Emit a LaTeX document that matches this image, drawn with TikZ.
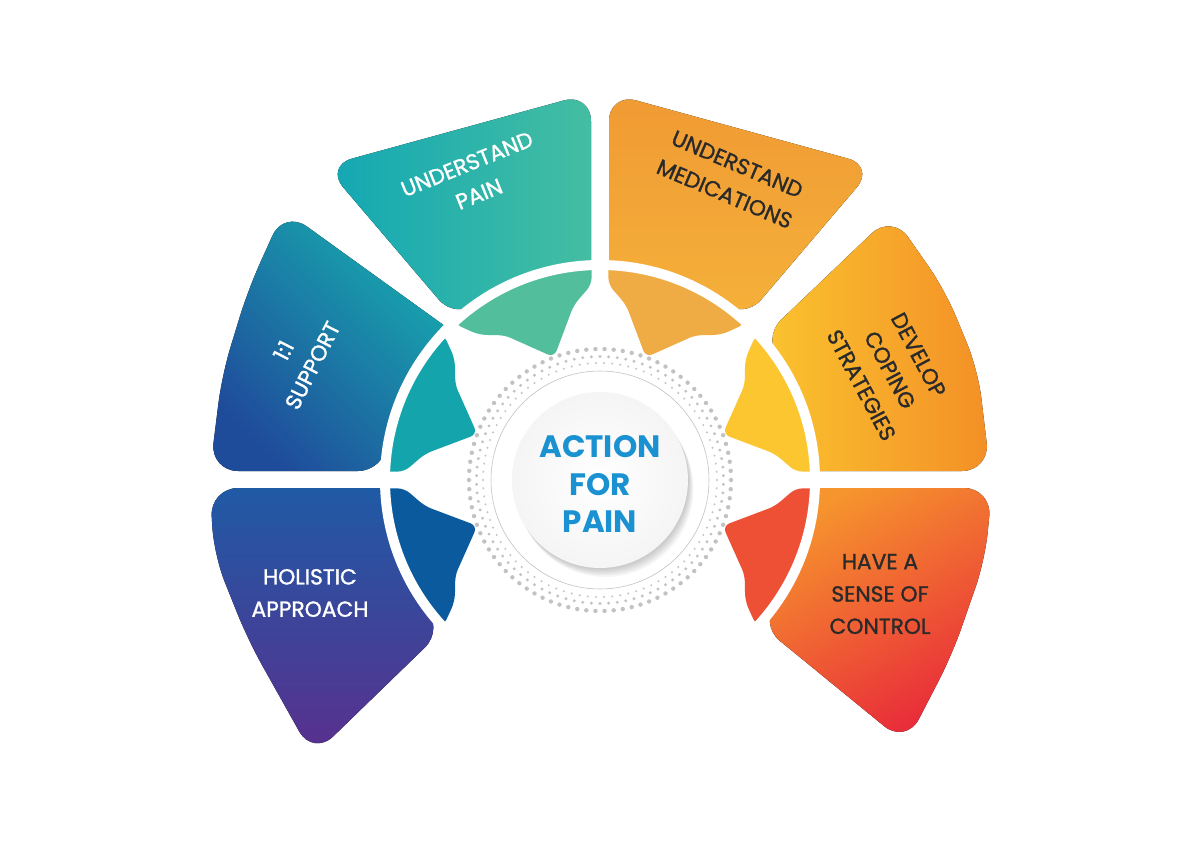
\documentclass[tikz,border=0pt]{standalone}
\usepackage{fontspec}
\setmainfont{Poppins}
\newfontfamily\lblfont{Poppins}[FakeBold=1.3]
\definecolor{upA}{HTML}{12A7B4}
\definecolor{upB}{HTML}{44BEA2}
\definecolor{upin}{HTML}{52BE9C}
\definecolor{suA}{HTML}{1F4B9B}
\definecolor{suB}{HTML}{17ABAF}
\definecolor{suin}{HTML}{14A5AC}
\definecolor{haA}{HTML}{1F5AA5}
\definecolor{haM}{HTML}{2C3A92}
\definecolor{haB}{HTML}{5A2F8E}
\definecolor{hain}{HTML}{0A5A9D}
\definecolor{umA}{HTML}{F09A33}
\definecolor{umB}{HTML}{F5B13A}
\definecolor{umin}{HTML}{F0AC44}
\definecolor{dcA}{HTML}{FBC42E}
\definecolor{dcB}{HTML}{F38F27}
\definecolor{dcin}{HTML}{FCC630}
\definecolor{hsA}{HTML}{F6952D}
\definecolor{hsB}{HTML}{E8283A}
\definecolor{hsin}{HTML}{EE5036}
\definecolor{titleblue}{HTML}{1A91D0}
\definecolor{darktext}{HTML}{2A2A2A}
\definecolor{dotgray}{HTML}{C2C2C2}
\tikzset{
  lbl/.style={align=center,font=\lblfont\fontsize{15.5}{23}\selectfont,inner sep=0pt},
  hub/.style={align=center,font=\fontsize{22}{27}\selectfont\bfseries,text=titleblue,inner sep=0pt},
  gapring/.style={draw=white,line width=7.1pt}
}
\begin{document}
\begin{tikzpicture}[x=0.025cm,y=0.025cm]
\coordinate (O) at (0,0);
\fill[white] (-600,-368) rectangle (600,480);
\useasboundingbox (-600,-368) rectangle (600,480);
\fill[left color=upA,right color=upB] (-9,214) [rounded corners=20pt] -- (-9,387) -- (-275,314) -- (-143,159) [sharp corners] arc[start angle=132,end angle=92.4,radius=214] -- cycle;
\fill[left color=suA,right color=suB,shading angle=135] (-151,151) [rounded corners=20pt] -- (-316,270) -- (-352,190) -- (-378,105) -- (-390,9) -- (-214,9) [sharp corners] arc[start angle=177.6,end angle=135,radius=214] -- cycle;
\fill[top color=haA,middle color=haM,bottom color=haB] (-214,-8) [rounded corners=20pt] -- (-390,-8) -- (-386,-75) -- (-352,-160) -- (-287,-276) -- (-155,-148) [sharp corners] arc[start angle=223.7,end angle=182.1,radius=214] -- cycle;
\fill[top color=umA,bottom color=umB] (9,214) [rounded corners=20pt] -- (9,387) -- (275,314) -- (143,159) [sharp corners] arc[start angle=48,end angle=87.6,radius=214] -- cycle;
\fill[left color=dcA,right color=dcB] (214,9) [rounded corners=20pt] -- (390,9) -- (378,110) -- (345,190) -- (292,266) -- (161,141) [sharp corners] arc[start angle=41.2,end angle=2.4,radius=214] -- cycle;
\fill[top color=hsA,bottom color=hsB,shading angle=30] (214,-8) [rounded corners=20pt] -- (392,-8) -- (385,-80) -- (352,-175) -- (306,-264) -- (158,-143) [sharp corners] arc[start angle=-42.2,end angle=-2.1,radius=214] -- cycle;
\foreach \s/\d/\c in {90/1/upin,180/-1/suin,180/1/hain,90/-1/umin,0/1/dcin,0/-1/hsin}
  \fill[\c] ({\s+\d*2.3}:214) [rounded corners=5pt] -- ({\s+\d*2.4}:196) -- ({\s+\d*8.5}:177) -- ({\s+\d*20.5}:131) -- ({\s+\d*33.5}:174) -- ({\s+\d*36.5}:180) -- ({\s+\d*40}:190) -- ({\s+\d*43}:214) [sharp corners] arc[start angle={\s+\d*43},end angle={\s+\d*2.3},radius=214] -- cycle;
\draw[gapring] (O) circle (215);
\foreach \a in {0,4,...,356}{
  \fill[dotgray] (\a:131) circle (2.2);
  \fill[dotgray] ({\a+2}:123.5) circle (1.6);
  \fill[dotgray] (\a:117) circle (1.1);
}
\draw[black!25,line width=0.4pt] (O) circle (109);
\foreach \k in {1,...,6}
  \fill[black,opacity=0.035] ({0.9*\k},{-1.5*\k}) circle (88);
\shade[inner color=white,outer color=black!4] (O) circle (88);
\node[hub] (hub) at (0,-4) {ACTION\\FOR\\PAIN};
\node[lbl,text=white,rotate=22] (pain) at (-127,301) {UNDERSTAND\\PAIN};
\node[lbl,text=white,rotate=63] (supp) at (-302,122) {1:1\\SUPPORT};
\node[lbl,text=white] (holi) at (-290,-113) {HOLISTIC\\APPROACH};
\node[lbl,text=darktext,rotate=-23] (medi) at (131,301) {UNDERSTAND\\MEDICATIONS};
\node[lbl,text=darktext,rotate=-62] (cope) at (290,110) {DEVELOP\\COPING\\STRATEGIES};
\node[lbl,text=darktext] (ctrl) at (280,-114) {HAVE A\\SENSE OF\\CONTROL};
\end{tikzpicture}
\end{document}
